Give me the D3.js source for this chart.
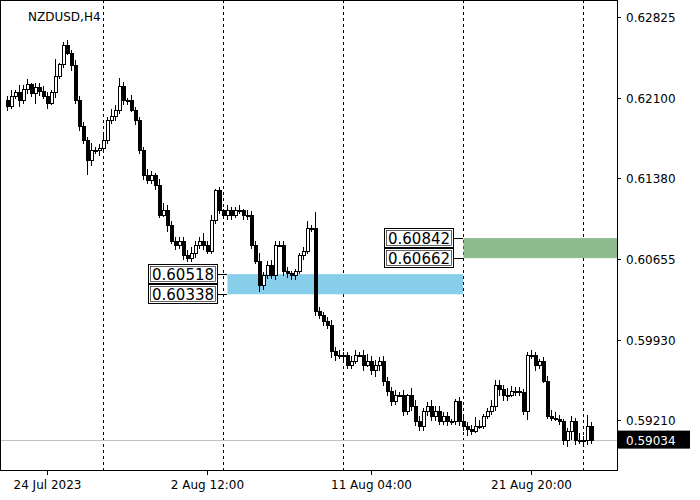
<!DOCTYPE html><html><head><meta charset="utf-8"><script src="https://cdn.jsdelivr.net/npm/d3@7"></script>
<style>body{margin:0;background:#fff}text{font-family:"DejaVu Sans",sans-serif;font-size:12px}</style></head><body><svg id="c" width="700" height="500"></svg>
<script>
const closes=[.6203,.6212,.6215,.6208,.6218,.6222,.6214,.6220,.6216,.6212,.6205,.6215,.6230,.6240,.6257,.6250,.6239,.6208,.6185,.6172,.6154,.6163,.6163,.6165,.6172,.6190,.6194,.6199,.6221,.6208,.6208,.6199,.6190,.6163,.6141,.6136,.6141,.6132,.6105,.6109,.6096,.6082,.6078,.6082,.6069,.6066,.6071,.6078,.6082,.6078,.6073,.6100,.6127,.6109,.6105,.6109,.6105,.6109,.6109,.6105,.6105,.6078,.6064,.6042,.6051,.6060,.6051,.6078,.6078,.6055,.6053,.6051,.6055,.6069,.6073,.6093,.6093,.6019,.6015,.6010,.6006,.5983,.5979,.5979,.5979,.5970,.5974,.5979,.5979,.5970,.5974,.5966,.5970,.5974,.5956,.5947,.5938,.5943,.5943,.5929,.5943,.5934,.5920,.5916,.5929,.5934,.5925,.5929,.5920,.5925,.5920,.5920,.5938,.5920,.5916,.5913,.5911,.5916,.5916,.5925,.5929,.5934,.5952,.5949,.5943,.5943,.5947,.5947,.5946,.5929,.5979,.5979,.5970,.5974,.5956,.5925,.5923,.5922,.5920,.5903,.5911,.5920,.5903,.5903,.5903,.5916,.5903];
const wickUp  ="23142312232191232322242232434213222321343222233224231213223132242232222111242922232322332343323223231433223332211232253123332432222321233321232426222";
const wickDown="32242326323132213232832332232331323223214232322323222213322332243223133332322323243232221313433332132333333322322334212222343313225232122123453223221";
const priceTicks=[0.62825,0.62100,0.61380,0.60655,0.59930,0.59210];
const timeLabels=[{i:10,t:"24 Jul 2023"},{i:50,t:"2 Aug 12:00"},{i:91,t:"11 Aug 04:00"},{i:131,t:"21 Aug 20:00"}];
const gridIdx=[24,54,84,114,144];
const zones=[{hi:0.60518,lo:0.60338,i0:55,i1:114,col:"#87ceeb",lab:"0.60518",lab2:"0.60338",lx:148},
             {hi:0.60842,lo:0.60662,i0:114,i1:153,col:"#8fbc8f",lab:"0.60842",lab2:"0.60662",lx:384}];
const last=0.59034;

const svg=d3.select("#c");
const W=617,H=470;
const x=d3.scaleLinear().domain([0,1]).range([7,11]);
const y=d3.scaleLinear().domain([0.62825,0.59210]).range([17,420]);
gridIdx.forEach(i=>svg.append("line").attr("x1",x(i)).attr("x2",x(i)).attr("y1",0).attr("y2",H).attr("stroke","#000").attr("stroke-dasharray","3,3").attr("shape-rendering","crispEdges"));
zones.forEach(z=>{
  svg.append("rect").attr("x",x(z.i0)+0.5).attr("y",y(z.hi)).attr("width",Math.min(W,x(z.i1))-x(z.i0)-0.5).attr("height",y(z.lo)-y(z.hi)).attr("fill",z.col);
});
svg.append("line").attr("x1",0).attr("x2",W).attr("y1",Math.round(y(last))+0.5).attr("y2",Math.round(y(last))+0.5).attr("stroke","#c0c0c0");
const g=svg.append("g").attr("shape-rendering","crispEdges");
closes.forEach((c,i)=>{
  const o=i?closes[i-1]:0.6208;
  const hi=Math.max(o,c)+(+wickUp[i])*0.00016, lo=Math.min(o,c)-(+wickDown[i])*0.00016;
  const cx=Math.round(x(i))+0.5;
  g.append("line").attr("x1",cx).attr("x2",cx).attr("y1",y(hi)).attr("y2",y(lo)).attr("stroke","#000");
  const top=Math.round(y(Math.max(o,c))),bot=Math.round(y(Math.min(o,c)));
  g.append("rect").attr("x",cx-1.5).attr("y",top+0.5).attr("width",3).attr("height",Math.max(1,bot-top)).attr("fill",c>=o?"#fff":"#000").attr("stroke","#000");
});
zones.forEach(z=>{
  [[z.lab,y(z.hi)],[z.lab2,y(z.lo)]].forEach(([t,yy])=>{
    const by=Math.round(yy)-9.5;
    svg.append("rect").attr("x",z.lx+0.5).attr("y",by).attr("width",69).attr("height",19).attr("fill","#fff").attr("stroke","#000");
    svg.append("rect").attr("x",z.lx+2.5).attr("y",by+2).attr("width",65).attr("height",15).attr("fill","none").attr("stroke","#000").attr("stroke-width",0.6);
    svg.append("text").attr("x",z.lx+4).attr("y",by+15).style("font-size","15px").text(t);
    svg.append("line").attr("x1",z.lx+70).attr("x2",x(z.i0)).attr("y1",Math.round(yy)+0.5).attr("y2",Math.round(yy)+0.5).attr("stroke","#000");
  });
});
svg.append("rect").attr("x",0.5).attr("y",0.5).attr("width",W).attr("height",H).attr("fill","none").attr("stroke","#000").attr("shape-rendering","crispEdges");
priceTicks.forEach(p=>{
  const yy=Math.round(y(p))+0.5;
  svg.append("line").attr("x1",W).attr("x2",W+4).attr("y1",yy).attr("y2",yy).attr("stroke","#000");
  svg.append("text").attr("x",626).attr("y",yy+4).text(p.toFixed(5));
});
svg.append("rect").attr("x",W+1).attr("y",y(last)-9).attr("width",72).attr("height",18).attr("fill","#000");
svg.append("text").attr("x",626).attr("y",y(last)+5).attr("fill","#fff").text(last.toFixed(5));
timeLabels.forEach(d=>{
  const xx=Math.round(x(d.i))+0.5;
  svg.append("line").attr("x1",xx).attr("x2",xx).attr("y1",H).attr("y2",H+5).attr("stroke","#000");
  svg.append("text").attr("x",xx).attr("y",H+19).attr("text-anchor","middle").text(d.t);
});
svg.append("text").attr("x",28).attr("y",21).text("NZDUSD,H4");
</script></body></html>
